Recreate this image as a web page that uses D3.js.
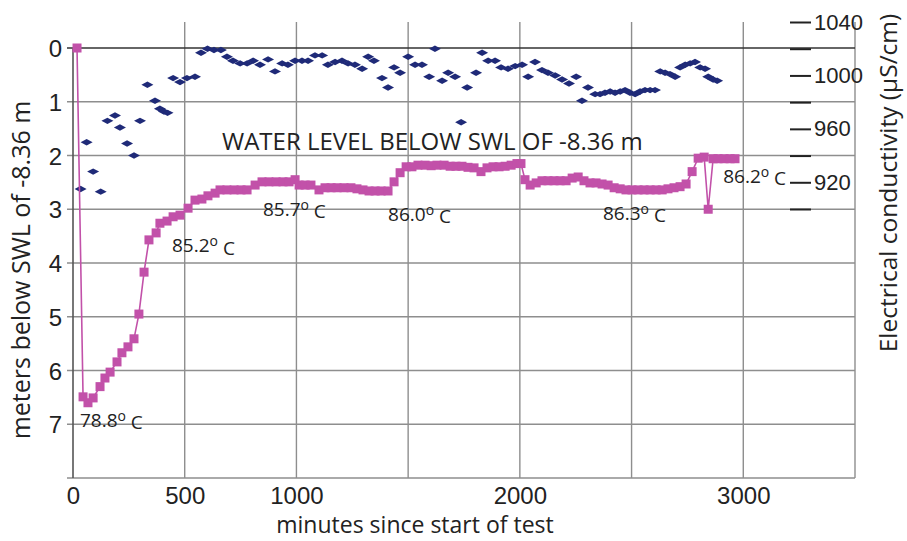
<!DOCTYPE html>
<html lang="en">
<head>
    <meta charset="UTF-8">
    <title>Water level and conductivity during test</title>
    <script src="https://d3js.org/d3.v7.min.js"></script>
    <style>
        body { margin: 0; background: #fff; }
        svg { display: block; font-family: "Open Sans", sans-serif; }
        .axis text { fill: #222; }
    </style>
</head>
<body>
    <div id="viz"></div>
    <script>
        // water level (meters below SWL), magenta squares
        var levelMinutes = [18,45,67,90,121,143,166,197,219,246,273,295,318,340,372,389,421,448,479,515,546,577,604,636,658,689,721,752,779,815,846,877,909,940,967,994,1012,1039,1065,1101,1128,1155,1182,1213,1244,1271,1298,1325,1352,1379,1410,1437,1464,1491,1517,1544,1576,1603,1629,1661,1688,1714,1741,1768,1795,1826,1853,1880,1907,1934,1961,1987,2005,2023,2046,2073,2099,2126,2153,2180,2207,2234,2261,2287,2314,2341,2368,2395,2422,2449,2475,2502,2529,2556,2583,2610,2637,2663,2690,2717,2744,2771,2798,2825,2843,2865,2887,2914,2941,2963];
        var levelMeters = [0,6.49,6.60,6.51,6.30,6.14,6.03,5.84,5.67,5.56,5.41,4.95,4.17,3.57,3.44,3.26,3.22,3.14,3.11,2.98,2.83,2.81,2.75,2.70,2.64,2.64,2.64,2.64,2.64,2.55,2.49,2.49,2.49,2.49,2.49,2.45,2.55,2.55,2.55,2.64,2.60,2.60,2.60,2.60,2.60,2.62,2.64,2.66,2.66,2.66,2.66,2.49,2.32,2.21,2.21,2.18,2.18,2.19,2.18,2.18,2.20,2.20,2.20,2.22,2.23,2.30,2.23,2.21,2.21,2.20,2.18,2.15,2.15,2.45,2.55,2.51,2.47,2.47,2.47,2.47,2.47,2.42,2.40,2.47,2.51,2.51,2.53,2.55,2.60,2.62,2.64,2.64,2.64,2.64,2.64,2.64,2.64,2.62,2.60,2.58,2.53,2.30,2.05,2.03,3.00,2.06,2.06,2.06,2.06,2.06];

        // electrical conductivity (uS/cm), navy diamonds
        var condMinutes = [34,61,90,124,154,188,210,242,273,300,333,367,389,407,423,448,479,510,546,573,602,631,662,689,716,748,779,806,837,873,904,936,962,994,1025,1052,1083,1115,1141,1173,1204,1231,1262,1294,1321,1347,1383,1410,1437,1464,1500,1531,1562,1594,1620,1652,1679,1710,1737,1764,1804,1831,1858,1889,1916,1947,1979,2010,2037,2068,2099,2126,2158,2189,2220,2252,2278,2305,2337,2359,2381,2404,2426,2449,2471,2493,2516,2538,2560,2583,2605,2628,2650,2672,2695,2717,2740,2762,2784,2807,2829,2843,2865,2883];
        var condValues = [915,950,928,913,966,970,961,949,940,966,993,981,975,973,972,998,995,998,999,1017,1020,1019,1019,1014,1011,1009,1009,1011,1008,1012,1003,1009,1008,1011,1011,1011,1015,1015,1008,1010,1011,1009,1008,1005,1014,1011,998,991,1006,1002,1014,1008,1008,999,1020,996,1002,999,965,991,1002,1017,1011,1011,1006,1005,1007,1008,999,1010,1004,1002,1000,997,994,999,981,991,986,986,987,988,987,988,989,987,986,988,989,989,989,1003,1002,1001,999,1006,1008,1009,1010,1006,1005,999,997,996];

        // temperature annotations, placed at (minutes, meters)
        var tempText = ["78.8", "85.2", "85.7", "86.0", "86.3", "86.2"];
        var tempMinutes = [31, 443, 850, 1410, 2372, 2910];
        var tempMeters = [7.05, 3.80, 3.13, 3.22, 3.20, 2.51];

        var xTickLabels = [0, 500, 1000, 2000, 3000];
        var xGrid = [500, 1000, 1500, 2000, 2500, 3000, 3500];
        var yTickLabels = [0, 1, 2, 3, 4, 5, 6, 7];
        var yGrid = [1, 2, 3, 4, 5, 6, 7, 8];
        var rTicks = [900, 920, 940, 960, 980, 1000, 1020, 1040];
        var rTickLabels = [920, 960, 1000, 1040];

        var W = 907, H = 541;
        var magenta = "#c251a9", navy = "#1f2a78", grid = "#8e8e8e";

        var svg = d3.select("#viz").append("svg")
            .attr("width", W).attr("height", H);

        var x = d3.scaleLinear().domain([0, 3500]).range([73, 855]);
        var y = d3.scaleLinear().domain([0, 8]).range([48, 478]);
        var yR = d3.scaleLinear().domain([900, 1040]).range([209, 22]);

        // grid
        svg.append("g").selectAll("line").data(xGrid).enter().append("line")
            .attr("x1", d => x(d)).attr("x2", d => x(d))
            .attr("y1", yR(1040)).attr("y2", y(8))
            .attr("stroke", grid).attr("stroke-width", 1.4);
        svg.append("g").selectAll("line").data(yGrid).enter().append("line")
            .attr("x1", x(0) - 6).attr("x2", x(3500))
            .attr("y1", d => y(d)).attr("y2", d => y(d))
            .attr("stroke", grid).attr("stroke-width", 1.4);
        svg.append("line")
            .attr("x1", x(0) - 6).attr("x2", x(3500))
            .attr("y1", y(0)).attr("y2", y(0))
            .attr("stroke", "#333").attr("stroke-width", 1.6);
        svg.append("line")
            .attr("x1", x(0)).attr("x2", x(0))
            .attr("y1", y(0)).attr("y2", y(8))
            .attr("stroke", "#555").attr("stroke-width", 1.6);

        // left axis labels
        var left = svg.append("g").attr("class", "axis")
            .attr("transform", "translate(" + x(0) + ",0)")
            .call(d3.axisLeft(y).tickValues(yTickLabels).tickSize(0).tickPadding(11));
        left.select(".domain").remove();
        left.selectAll("text").style("font-size", "24px").attr("dy", "0.36em");

        // bottom axis labels
        var bottom = svg.append("g").attr("class", "axis")
            .attr("transform", "translate(0," + y(8) + ")")
            .call(d3.axisBottom(x).tickValues(xTickLabels).tickSize(0).tickPadding(9)
                .tickFormat(d3.format("d")));
        bottom.select(".domain").remove();
        bottom.selectAll("text").style("font-size", "24px");

        // right axis
        var right = svg.append("g").attr("class", "axis")
            .attr("transform", "translate(790,0)")
            .call(d3.axisRight(yR).tickValues(rTicks).tickSize(21).tickPadding(3)
                .tickFormat(d => rTickLabels.indexOf(d) >= 0 ? d : ""));
        right.select(".domain").remove();
        right.selectAll("line").attr("stroke", "#222").attr("stroke-width", 2);
        right.selectAll("text").style("font-size", "22px");

        // axis titles
        svg.append("text")
            .attr("x", 415).attr("y", 533)
            .attr("text-anchor", "middle")
            .style("font-size", "23px").attr("fill", "#222")
            .text("minutes since start of test");
        svg.append("text")
            .attr("transform", "translate(30,270)rotate(-90)")
            .attr("text-anchor", "middle")
            .style("font-size", "25px").attr("fill", "#222")
            .text("meters below SWL of -8.36 m");
        svg.append("text")
            .attr("transform", "translate(897,183)rotate(-90)")
            .attr("text-anchor", "middle")
            .style("font-size", "24.5px").attr("fill", "#222")
            .text("Electrical conductivity (\u03bcS/cm)");

        svg.append("text")
            .attr("x", x(667)).attr("y", y(1.9))
            .style("font-size", "24px").attr("fill", "#222")
            .text("WATER LEVEL BELOW SWL OF -8.36 m");

        // conductivity diamonds
        var cond = condMinutes.map((m, i) => [m, condValues[i]]);
        svg.append("g").selectAll("path").data(cond).enter().append("path")
            .attr("d", d => {
                var cx = x(d[0]), cy = yR(d[1]);
                return "M" + (cx - 6) + "," + cy + "L" + cx + "," + (cy - 3.2) +
                    "L" + (cx + 6) + "," + cy + "L" + cx + "," + (cy + 3.2) + "Z";
            })
            .attr("fill", navy);

        // water level line + squares
        var level = levelMinutes.map((m, i) => [m, levelMeters[i]]);
        svg.append("path").datum(level)
            .attr("d", d3.line().x(d => x(d[0])).y(d => y(d[1])))
            .attr("fill", "none").attr("stroke", magenta).attr("stroke-width", 1.6);
        svg.append("g").selectAll("rect").data(level).enter().append("rect")
            .attr("x", d => x(d[0]) - 4.5).attr("y", d => y(d[1]) - 4.5)
            .attr("width", 9).attr("height", 9)
            .attr("fill", magenta);

        // temperature labels
        var temps = svg.append("g").selectAll("text")
            .data(tempText).enter().append("text")
            .attr("x", (d, i) => x(tempMinutes[i]))
            .attr("y", (d, i) => y(tempMeters[i]))
            .style("font-size", "19px").attr("fill", "#222");
        temps.append("tspan").text(d => d);
        temps.append("tspan").attr("dy", "-0.45em").style("font-size", "14px").text("o");
        temps.append("tspan").attr("dy", "0.45em").text(" C");
    </script>
</body>
</html>
